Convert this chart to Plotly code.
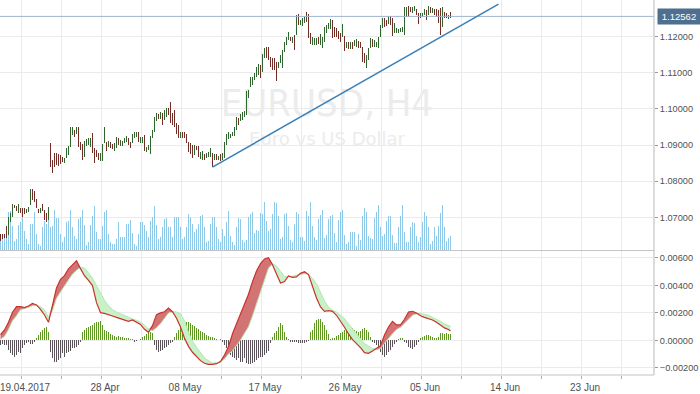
import numpy as np
import plotly.graph_objects as go

# ---------------- data (EURUSD H4) ----------------
high = [
    1.0655, 1.0653, 1.0655, 1.0676, 1.0701, 1.0711, 1.0736, 1.0734, 1.0731, 1.0736,
    1.0727, 1.0727, 1.0725, 1.0722, 1.0729, 1.0777, 1.0778, 1.0773, 1.0752, 1.0722,
    1.0725, 1.0738, 1.0720, 1.0711, 1.0729, 1.0906, 1.0858, 1.0879, 1.0877, 1.0874,
    1.0872, 1.0866, 1.0865, 1.0891, 1.0897, 1.0951, 1.0951, 1.0943, 1.0949, 1.0951,
    1.0909, 1.0903, 1.0912, 1.0916, 1.0919, 1.0919, 1.0934, 1.0891, 1.0886, 1.0877,
    1.0879, 1.0903, 1.0949, 1.0909, 1.0912, 1.0909, 1.0903, 1.0905, 1.0923, 1.0920,
    1.0914, 1.0911, 1.0919, 1.0925, 1.0920, 1.0909, 1.0932, 1.0935, 1.0937, 1.0937,
    1.0923, 1.0923, 1.0928, 1.0895, 1.0900, 1.0926, 1.0942, 1.0978, 1.0988, 1.0985,
    1.0991, 1.0988, 1.0997, 1.1002, 1.1002, 1.1018, 1.0988, 1.0997, 1.0960, 1.0955,
    1.0937, 1.0935, 1.0935, 1.0932, 1.0909, 1.0905, 1.0900, 1.0900, 1.0898, 1.0898,
    1.0881, 1.0883, 1.0874, 1.0877, 1.0880, 1.0892, 1.0877, 1.0874, 1.0874, 1.0870,
    1.0874, 1.0877, 1.0909, 1.0932, 1.0935, 1.0932, 1.0937, 1.0951, 1.0978, 1.0974,
    1.0985, 1.0991, 1.0994, 1.1050, 1.1053, 1.1089, 1.1089, 1.1099, 1.1117, 1.1124,
    1.1122, 1.1151, 1.1168, 1.1172, 1.1172, 1.1145, 1.1140, 1.1140, 1.1131, 1.1129,
    1.1149, 1.1163, 1.1186, 1.1200, 1.1214, 1.1200, 1.1200, 1.1205, 1.1260, 1.1262,
    1.1246, 1.1251, 1.1255, 1.1269, 1.1262, 1.1209, 1.1200, 1.1196, 1.1196, 1.1200,
    1.1207, 1.1200, 1.1228, 1.1232, 1.1237, 1.1249, 1.1246, 1.1228, 1.1223, 1.1217,
    1.1209, 1.1235, 1.1202, 1.1186, 1.1186, 1.1186, 1.1186, 1.1191, 1.1193, 1.1189,
    1.1186, 1.1172, 1.1156, 1.1149, 1.1168, 1.1196, 1.1193, 1.1191, 1.1186, 1.1200,
    1.1232, 1.1251, 1.1251, 1.1246, 1.1257, 1.1257, 1.1251, 1.1237, 1.1223, 1.1220,
    1.1223, 1.1228, 1.1283, 1.1283, 1.1285, 1.1283, 1.1281, 1.1285, 1.1276, 1.1265,
    1.1267, 1.1267, 1.1276, 1.1274, 1.1285, 1.1283, 1.1279, 1.1276, 1.1276, 1.1274,
    1.1280, 1.1283, 1.1269, 1.1266, 1.1260, 1.1269,
]
low = [
    1.0635, 1.0640, 1.0644, 1.0644, 1.0651, 1.0686, 1.0701, 1.0725, 1.0718, 1.0711,
    1.0711, 1.0701, 1.0709, 1.0711, 1.0715, 1.0734, 1.0748, 1.0743, 1.0727, 1.0711,
    1.0711, 1.0718, 1.0692, 1.0688, 1.0692, 1.0840, 1.0822, 1.0840, 1.0845, 1.0842,
    1.0847, 1.0854, 1.0851, 1.0863, 1.0872, 1.0895, 1.0928, 1.0923, 1.0932, 1.0895,
    1.0886, 1.0858, 1.0868, 1.0897, 1.0900, 1.0895, 1.0877, 1.0851, 1.0868, 1.0858,
    1.0857, 1.0857, 1.0905, 1.0884, 1.0894, 1.0891, 1.0888, 1.0883, 1.0892, 1.0900,
    1.0898, 1.0898, 1.0905, 1.0909, 1.0900, 1.0891, 1.0905, 1.0919, 1.0923, 1.0909,
    1.0905, 1.0905, 1.0883, 1.0881, 1.0886, 1.0875, 1.0919, 1.0937, 1.0966, 1.0972,
    1.0972, 1.0955, 1.0969, 1.0978, 1.0983, 1.0960, 1.0955, 1.0951, 1.0932, 1.0920,
    1.0919, 1.0920, 1.0919, 1.0905, 1.0881, 1.0874, 1.0865, 1.0872, 1.0886, 1.0868,
    1.0861, 1.0858, 1.0858, 1.0863, 1.0868, 1.0868, 1.0840, 1.0858, 1.0858, 1.0858,
    1.0856, 1.0858, 1.0863, 1.0900, 1.0918, 1.0920, 1.0926, 1.0926, 1.0942, 1.0955,
    1.0966, 1.0969, 1.0978, 1.0983, 1.1029, 1.1061, 1.1066, 1.1080, 1.1089, 1.1094,
    1.1087, 1.1103, 1.1140, 1.1140, 1.1136, 1.1117, 1.1108, 1.1108, 1.1077, 1.1112,
    1.1126, 1.1112, 1.1158, 1.1177, 1.1191, 1.1188, 1.1182, 1.1163, 1.1205, 1.1232,
    1.1232, 1.1231, 1.1237, 1.1242, 1.1196, 1.1179, 1.1177, 1.1177, 1.1177, 1.1179,
    1.1177, 1.1170, 1.1186, 1.1209, 1.1221, 1.1221, 1.1196, 1.1200, 1.1200, 1.1193,
    1.1186, 1.1200, 1.1161, 1.1168, 1.1165, 1.1165, 1.1165, 1.1174, 1.1172, 1.1168,
    1.1168, 1.1131, 1.1126, 1.1112, 1.1136, 1.1168, 1.1172, 1.1172, 1.1172, 1.1168,
    1.1200, 1.1223, 1.1228, 1.1230, 1.1235, 1.1232, 1.1202, 1.1209, 1.1209, 1.1211,
    1.1214, 1.1214, 1.1205, 1.1255, 1.1255, 1.1269, 1.1265, 1.1272, 1.1260, 1.1235,
    1.1251, 1.1255, 1.1260, 1.1246, 1.1260, 1.1267, 1.1267, 1.1260, 1.1255, 1.1237,
    1.1205, 1.1228, 1.1251, 1.1252, 1.1249, 1.1251,
]
# 1 = bullish bar (close > open), 0 = bearish bar
bar_up = [
    0, 0, 0, 0, 1, 1, 1, 0, 0, 1,   0, 0, 0, 1, 1, 1, 0, 0, 0, 0,
    1, 0, 0, 0, 1, 0, 0, 0, 0, 0,   0, 0, 1, 1, 1, 1, 1, 0, 1, 0,
    0, 0, 1, 1, 1, 1, 0, 0, 0, 0,   1, 1, 1, 0, 1, 0, 0, 1, 1, 0,
    1, 1, 1, 1, 0, 0, 1, 1, 1, 0,   1, 1, 0, 1, 1, 1, 1, 1, 1, 0,
    1, 0, 1, 1, 0, 0, 0, 0, 0, 0,   1, 0, 0, 0, 0, 0, 0, 1, 0, 0,
    1, 1, 0, 1, 1, 1, 0, 1, 0, 1,   0, 1, 1, 1, 1, 1, 1, 1, 1, 0,
    1, 1, 1, 1, 1, 1, 1, 1, 1, 1,   0, 1, 1, 0, 0, 0, 0, 0, 0, 1,
    1, 1, 1, 1, 1, 0, 1, 0, 1, 0,   1, 1, 1, 0, 0, 0, 1, 1, 1, 0,
    1, 1, 1, 1, 1, 1, 0, 0, 0, 0,   0, 1, 0, 1, 0, 1, 0, 1, 1, 0,
    0, 0, 0, 1, 1, 1, 0, 1, 1, 1,   1, 1, 0, 0, 1, 0, 0, 1, 1, 1,
    1, 1, 1, 1, 0, 0, 1, 1, 0, 0,   1, 1, 1, 0, 1, 0, 1, 0, 0, 0,
    0, 1, 0, 0, 1, 0,
]
# tick volume (arbitrary units)
volume = [
    28, 35, 48, 70, 115, 118, 73, 28, 33, 75, 83, 100, 58, 33, 18, 78, 78, 115, 48, 18,
    13, 70, 88, 78, 98, 70, 73, 121, 96, 96, 48, 23, 38, 83, 88, 121, 68, 43, 33, 93,
    98, 121, 75, 15, 23, 75, 103, 133, 53, 33, 33, 73, 113, 121, 48, 23, 18, 18, 33, 83,
    38, 38, 38, 78, 78, 91, 51, 18, 13, 48, 83, 85, 75, 58, 38, 88, 98, 133, 75, 33,
    38, 68, 93, 95, 68, 68, 38, 98, 100, 100, 68, 33, 38, 68, 108, 100, 78, 53, 63, 78,
    103, 106, 68, 23, 28, 78, 98, 98, 68, 33, 23, 63, 43,
    85, 118, 43, 25, 15, 70, 96, 93, 31, 23, 31, 100, 108, 115, 51, 61, 58, 111, 108, 145,
    88, 58, 63, 108, 145, 141, 103, 33, 40, 108, 111, 73, 31, 25, 78, 113, 108, 40, 40, 28,
    118, 101, 145, 73, 38, 31, 93, 106, 121, 35, 45, 93, 101, 105, 51, 25, 91, 113, 121, 45,
    18, 23, 55, 55, 55, 11, 48, 31, 101, 125, 115, 43, 35, 33, 95, 115, 135, 68, 43, 48,
    88, 103, 103, 45, 21, 21, 68, 103, 135, 55, 25, 25, 68, 83, 81, 43, 23, 38, 85, 115,
    101, 68, 18, 28, 68, 43, 71, 111, 135, 68, 28, 35, 41,
]
# MACD-type oscillator, values in thousandths, sampled on bars macd_bars
macd_bars = list(range(0, 226, 2)) + [225]
macd_milli = [
    0.41, 0.75, 1.31, 2.04, 2.45, 2.45, 2.38, 2.50, 2.69, 2.57,
    2.25, 1.84, 1.31, 2.57, 3.81, 4.44, 4.70, 5.19, 5.50, 5.79,
    5.21, 4.70, 4.36, 3.98, 2.74, 2.01, 1.96, 1.89, 1.77, 1.67,
    1.58, 1.48, 1.38, 1.48, 1.31, 1.16, 0.80, 0.58, 1.07, 1.87,
    1.99, 2.08, 2.35, 2.08, 1.60, 0.97, 0.15, -0.44, -0.87, -1.21,
    -1.48, -1.67, -1.75, -1.75, -1.70, -1.55, -1.07, -0.46, 0.48, 1.21,
    1.89, 2.57, 3.35, 4.27, 5.04, 5.58, 5.92, 6.01, 5.50, 4.82,
    4.17, 4.27, 4.68, 4.58, 4.61, 4.87, 4.99, 4.78, 3.88, 3.08,
    2.42, 2.11, 2.16, 2.11, 1.82, 1.43, 0.95, 0.46, 0.05, -0.24,
    -0.53, -0.90, -0.95, -0.78, -0.61, -0.39, 0.39, 0.97, 1.38, 1.12,
    1.12, 1.53, 2.06, 2.11, 1.99, 1.79, 1.67, 1.60, 1.48, 1.31,
    1.07, 0.90, 0.78, 0.68,
]
signal_milli = [
    0.07, 0.29, 0.78, 1.43, 1.79, 2.23, 2.30, 2.40, 2.52, 2.52,
    2.45, 2.21, 1.65, 2.16, 3.05, 3.52, 3.93, 4.39, 4.82, 5.09,
    5.31, 5.26, 4.90, 4.53, 3.98, 3.42, 2.91, 2.52, 2.23, 2.06,
    1.92, 1.77, 1.67, 1.55, 1.45, 1.33, 1.09, 0.82, 0.70, 0.92,
    1.21, 1.62, 1.99, 2.06, 2.06, 1.94, 1.41, 0.58, -0.07, -0.51,
    -0.90, -1.28, -1.50, -1.67, -1.62, -1.58, -1.36, -0.99, -0.78, -0.39,
    0.02, 0.51, 0.99, 1.77, 2.64, 3.52, 4.39, 5.26, 5.55, 5.41,
    5.02, 4.63, 4.63, 4.65, 4.75, 4.82, 4.85, 4.80, 4.51, 4.12,
    3.44, 2.86, 2.42, 2.18, 2.06, 1.84, 1.58, 1.19, 0.85, 0.48,
    0.10, -0.24, -0.41, -0.61, -0.68, -0.61, -0.22, 0.15, 0.48, 0.78,
    0.95, 1.24, 1.53, 1.82, 1.92, 1.94, 1.89, 1.82, 1.67, 1.53,
    1.38, 1.19, 1.04, 1.02,
]
hist_milli = [
    -0.34, -0.29, -0.34, -0.34, -0.70, -0.95, -1.07, -1.19, -1.07, -0.82,
    -0.95, -0.58, -0.34, -0.22, -0.10, -0.24, -0.24, -0.10, 0.15, 0.39,
    0.58, 0.75, 0.87, 0.99, 0.58, -0.82, -1.31, -1.55, -1.60, -1.43,
    -1.31, -0.95, -1.19, -0.95, -0.82, -0.78, -0.58, -0.58, -0.46, -0.34,
    -0.10, 0.58, 0.75, 0.92, 0.99, 1.04, 1.12, 1.24, 1.31, 1.36,
    1.41, 1.12, 0.75, 0.68, 0.58, 0.44, 0.39, 0.34, 0.27, 0.34,
    0.27, 0.27, 0.19, 0.19, 0.15, 0.10, 0.07, -0.10, -0.05, 0.05,
    0.10, 0.27, 0.34, 0.44, 0.53, 0.58, 0.51, -0.34, -0.70, -0.87,
    -0.78, -0.70, -0.58, -0.46, -0.34, -0.22, -0.10, 0.27, 0.51, 0.75,
    0.99, 1.16, 1.31, 1.36, 1.31, 1.24, 1.12, 1.07, 0.92, 0.82,
    0.68, 0.58, 0.51, 0.39, 0.34, 0.27, 0.22, 0.15, 0.10, 0.05,
    0.07, -0.10, -0.34, -0.58, -0.82, -1.07, -1.19, -1.31, -1.43, -1.31,
    -1.55, -1.60, -1.31, -1.67, -1.75, -1.75, -1.67, -1.55, -1.43, -1.31,
    -1.19, -1.19, -1.07, -0.95, -0.78, -0.22, 0.27, 0.51, 0.68, 0.99,
    1.24, 1.12, 0.58, 0.27, 0.10, -0.10, -0.15, -0.10, -0.15, -0.22,
    -0.22, -0.22, -0.17, -0.10, -0.05, 0.58, 0.75, 1.24, 1.48, 1.55,
    1.55, 1.36, 1.12, 0.75, 0.44, 0.10, 0.19, 0.19, 0.34, 0.39,
    0.51, 0.63, 0.75, 0.87, 1.04, 0.99, 0.92, 0.75, 0.68, 0.58,
    0.68, 0.82, 0.87, 0.75, 0.58, 0.27, -0.10, -0.22, -0.34, -0.58,
    -0.82, -1.07, -1.19, -1.07, -0.87, -0.70, -0.46, -0.29, -0.10, 0.10,
    0.15, 0.19, -0.10, -0.22, -0.46, -0.58, -0.63, -0.46, -0.34, -0.10,
    0.19, 0.27, 0.34, 0.39, 0.39, 0.34, 0.27, 0.19, 0.15, 0.27,
    0.51, 0.51, 0.46, 0.51, 0.46, 0.44,
]
last_price = 1.12562
trend_bar = [106.0, 249.0]
trend_price = [1.0839, 1.1290]
date_labels = ["19.04.2017", "", "28 Apr", "", "08 May", "", "17 May", "",
               "26 May", "", "05 Jun", "", "14 Jun", "", "23 Jun", ""]
price_ticks = [1.07, 1.08, 1.09, 1.10, 1.11, 1.12]
macd_ticks = [-0.002, 0.0, 0.002, 0.004, 0.006]

# ---------------- styling ----------------
GRID = "#ebebeb"
AXC = "#c4c4c4"
TXT = "#505050"
FONT = "Liberation Sans, Arial, sans-serif"
UP = "rgba(45,100,45,0.99)"
DN = "rgba(112,42,36,0.99)"
VOL = "rgba(142,200,234,0.99)"
H_POS = "rgba(92,150,30,0.99)"
H_NEG = "rgba(88,82,88,0.99)"

n = len(high)
idx = list(range(n))
x_range = [-0.25, 326.75]                       # 2 px per bar over the 654 px plot width
grid_bars = [10.25 + 20 * k for k in range(len(date_labels))]   # a grid line every 40 px

fig = go.Figure()

# volume (base axis of the price pane)
fig.add_trace(go.Bar(x=idx, y=volume, width=0.5, marker=dict(color=VOL, line=dict(width=0)),
                     xaxis="x", yaxis="y", hoverinfo="skip"))
# watermark (on base axis so bars draw over it)
xc = (x_range[0] + x_range[1]) / 2
fig.add_trace(go.Scatter(x=[xc], y=[430], mode="text", text=["EURUSD, H4"],
                         textfont=dict(size=38, color="#ececec",
                                       family="DejaVu Sans Condensed, DejaVu Sans, sans-serif"),
                         xaxis="x", yaxis="y", hoverinfo="skip"))
fig.add_trace(go.Scatter(x=[xc], y=[330], mode="text", text=["Euro vs US Dollar"],
                         textfont=dict(size=18, color="#ececec", family="DejaVu Sans, sans-serif"),
                         xaxis="x", yaxis="y", hoverinfo="skip"))

# last price horizontal line
fig.add_trace(go.Scatter(x=x_range, y=[last_price, last_price], mode="lines",
                         line=dict(color="#9fb4cc", width=1), xaxis="x", yaxis="y3", hoverinfo="skip"))
# price bars (high-low)
hl = np.array(high) - np.array(low)
fig.add_trace(go.Bar(x=idx, y=hl, base=low, width=0.5,
                     marker=dict(color=[UP if u else DN for u in bar_up], line=dict(width=0)),
                     xaxis="x", yaxis="y3", hoverinfo="skip"))
# trend line
fig.add_trace(go.Scatter(x=trend_bar, y=trend_price, mode="lines",
                         line=dict(color="#3a80b8", width=1.5), xaxis="x", yaxis="y3", hoverinfo="skip"))

# ---- oscillator pane ----
m = np.array(macd_milli) * 1e-3
s = np.array(signal_milli) * 1e-3
h = np.array(hist_milli) * 1e-3
top = np.maximum(m, s)
fig.add_trace(go.Scatter(x=macd_bars, y=s, mode="lines", line=dict(width=0, color="rgba(0,0,0,0)"),
                         xaxis="x2", yaxis="y2", hoverinfo="skip"))
fig.add_trace(go.Scatter(x=macd_bars, y=top, mode="lines", line=dict(width=0, color="rgba(0,0,0,0)"),
                         fill="tonexty", fillcolor="#d27474", xaxis="x2", yaxis="y2", hoverinfo="skip"))
fig.add_trace(go.Scatter(x=macd_bars, y=m, mode="lines", line=dict(width=0, color="rgba(0,0,0,0)"),
                         xaxis="x2", yaxis="y2", hoverinfo="skip"))
fig.add_trace(go.Scatter(x=macd_bars, y=top, mode="lines", line=dict(width=0, color="rgba(0,0,0,0)"),
                         fill="tonexty", fillcolor="#c8f1c8", xaxis="x2", yaxis="y2", hoverinfo="skip"))
fig.add_trace(go.Bar(x=idx, y=h, width=0.5,
                     marker=dict(color=[H_POS if v >= 0 else H_NEG for v in h], line=dict(width=0)),
                     xaxis="x2", yaxis="y2", hoverinfo="skip"))
fig.add_trace(go.Scatter(x=macd_bars, y=s, mode="lines", line=dict(color="#b4e6b4", width=1),
                         xaxis="x2", yaxis="y2", hoverinfo="skip"))
fig.add_trace(go.Scatter(x=macd_bars, y=m, mode="lines", line=dict(color="#c8322c", width=1.2),
                         xaxis="x2", yaxis="y2", hoverinfo="skip"))

xfont = dict(family=FONT, size=10, color=TXT)
yfont = dict(family=FONT, size=9.2, color=TXT)
fig.update_layout(
    width=700, height=394,
    margin=dict(l=0, r=46, t=0, b=19, pad=0),
    paper_bgcolor="white", plot_bgcolor="white",
    showlegend=False, hovermode=False,
    barmode="overlay", bargap=0,
    xaxis=dict(domain=[0, 1], anchor="y", range=x_range, tickmode="array", tickvals=grid_bars,
               showticklabels=False, showgrid=True, gridcolor=GRID, gridwidth=1,
               zeroline=False, showline=False, ticks="", automargin=False),
    yaxis=dict(domain=[125 / 375, 1], range=[0, 750], showgrid=False, showticklabels=False,
               zeroline=False, showline=False, ticks="", automargin=False),
    yaxis3=dict(overlaying="y", anchor="x", side="right", range=[1.060947, 1.130161],
                tickmode="array", tickvals=price_ticks, tickformat=".5f",
                showgrid=True, gridcolor=GRID, zeroline=False, showline=False,
                ticks="outside", ticklen=3, tickcolor="#9a9a9a", tickfont=yfont,
                automargin=False),
    xaxis2=dict(domain=[0, 1], anchor="y2", range=x_range, tickmode="array", tickvals=grid_bars,
                ticktext=date_labels, showgrid=True, gridcolor=GRID, zeroline=False,
                showline=False, ticks="outside", ticklen=3, tickcolor="#b0b0b0",
                tickfont=xfont, ticklabelshift=4, ticklabelstandoff=0,
                ticklabeloverflow="allow", automargin=False),
    yaxis2=dict(domain=[0, 124 / 375], anchor="x2", side="right", range=[-0.002524, 0.006495],
                tickmode="array", tickvals=macd_ticks, tickformat=".5f",
                showgrid=True, gridcolor=GRID, zeroline=False, showline=False,
                ticks="outside", ticklen=3, tickcolor="#9a9a9a", tickfont=yfont,
                automargin=False),
    shapes=[
        dict(type="line", xref="paper", yref="paper", x0=0, x1=1, y0=124.5 / 375, y1=124.5 / 375,
             line=dict(color=AXC, width=1.2)),
        dict(type="line", xref="paper", yref="paper", x0=1, x1=1, y0=0, y1=1,
             line=dict(color=AXC, width=1.2)),
        dict(type="line", xref="paper", yref="paper", x0=0, x1=1, y0=0, y1=0,
             line=dict(color=AXC, width=1.2)),
    ],
    annotations=[
        dict(x=1, xref="paper", xanchor="left", xshift=3, y=last_price, yref="y3",
             text="1.12562", showarrow=False, bgcolor="#4f6f90",
             font=dict(family=FONT, size=9.5, color="white"),
             width=40, height=13, borderpad=1, align="center"),
    ],
)

fig.write_html("out.html", config={"displayModeBar": False},
               post_script="document.body.style.margin='0';document.body.style.padding='0';")
